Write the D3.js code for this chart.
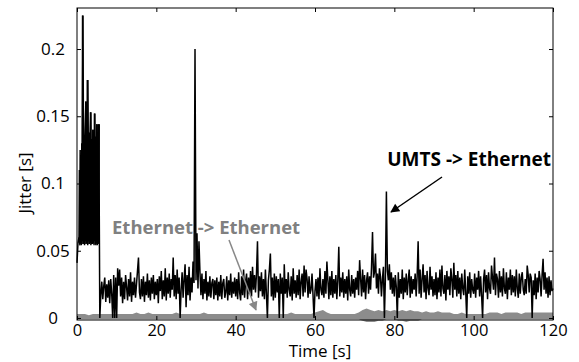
<!DOCTYPE html>
<html>
<head>
<meta charset="utf-8">
<script src="https://cdn.jsdelivr.net/npm/d3@7"></script>
<style>
    html, body { margin: 0; padding: 0; background: #fff; }
    svg { display: block; font-family: "Open Sans", sans-serif; }
</style>
</head>
<body>
<svg id="chart" width="579" height="362"></svg>
<script>
// UMTS -> Ethernet jitter in ms, one sample every 0.25 s (0 .. 120 s)
const UMTS_STEP = 0.25;
const umtsJitterMs = [
    41,56,60,54,120,58,225,55,134,161,56,177,57,130,153,55,140,58,152,54,
    144,56,144,0,17,27,14,24,30,12,25,15,28,11,29,18,0,32,0,30,
    0,37,24,36,16,30,11,27,14,32,23,13,29,16,34,12,27,17,30,15,
    25,35,45,19,14,29,16,31,12,27,17,33,15,28,13,30,18,32,14,27,
    17,29,11,31,20,35,14,28,16,37,13,30,18,33,15,29,21,45,16,32,
    14,36,18,30,0,21,34,15,29,40,8,32,17,38,13,30,19,42,26,200,
    28,63,22,57,34,17,33,14,29,18,35,13,27,16,31,15,26,29,14,28,
    17,30,13,27,16,32,14,26,29,15,19,31,13,28,17,33,15,27,18,30,
    16,29,14,34,19,13,31,17,36,15,27,33,14,30,18,35,16,38,21,32,
    19,33,57,15,31,20,34,16,29,14,36,18,0,28,36,48,16,30,13,33,
    15,31,19,29,0,33,18,30,0,40,18,29,15,34,21,16,31,13,37,18,
    28,15,32,17,36,14,27,33,16,39,19,36,29,15,31,18,21,33,17,0,
    20,29,16,30,14,37,21,17,29,15,35,18,42,28,14,31,17,35,15,29,
    18,32,14,28,53,16,30,19,34,15,29,18,31,13,36,21,16,32,18,29,
    15,30,21,35,17,43,29,16,36,19,32,14,28,34,18,31,21,38,64,30,
    34,48,22,33,18,37,31,16,29,38,0,30,94,35,28,40,21,34,18,30,
    16,32,23,0,34,15,29,18,36,14,30,19,33,17,28,36,15,31,18,29,
    21,33,16,31,57,18,36,15,29,40,19,32,14,35,22,17,38,21,31,16,
    29,17,34,14,30,19,36,16,39,22,18,32,13,35,21,31,17,37,29,15,
    41,21,32,16,35,18,30,14,33,22,17,36,19,0,31,18,34,15,29,21,
    18,33,15,30,21,35,16,31,17,0,29,36,19,32,14,34,22,18,39,30,
    21,45,17,33,29,15,35,19,31,16,37,22,18,34,14,30,21,36,17,32,
    19,31,16,36,22,15,33,18,30,34,21,17,29,18,39,32,19,33,30,0,
    28,17,33,14,30,19,35,29,16,32,44,21,34,18,30,15,31,17,28,20,
    22
];

// start-up burst of the UMTS link, ms, one sample every 0.1 s from 0.5 s
const BURST_START = 0.5;
const BURST_STEP = 0.1;
const burstJitterMs = [
    57,110,55,125,56,120,54,130,57,225,
    55,128,56,132,54,134,57,161,55,140,
    56,177,54,135,57,131,55,138,56,153,
    54,133,57,130,55,140,56,132,54,152,
    57,135,55,130,56,144,54,138,57,144,
    55,144
];

// Ethernet -> Ethernet jitter band in ms, one value per second (0 .. 120 s)
const ethUpperMs = [
    3,3,3,2,3,3,3,3,3,3,
    3,3,3,3,3,4,3,3,4,3,
    3,3,3,3,3,4,3,3,3,3,
    3,3,4,3,3,3,3,3,3,3,
    3,3,3,3,3,3,3,3,3,3,
    3,3,3,3,4,3,3,3,3,3,
    4,5,6,4,3,3,3,3,3,3,
    3,4,6,7,6,5,6,5,6,5,
    6,5,6,5,6,5,5,4,5,4,
    4,5,4,4,4,3,3,4,3,3,
    3,3,3,3,4,4,4,3,4,4,
    4,4,3,4,4,4,4,4,4,4,
    4
];
const ethLowerMs = [
    -1,-1,-1,-1,-1,-1,-1,-1,-1,-1,
    -1,-1,-1,-1,-1,-1,-1,-1,-1,-1,
    -1,-1,-1,-1,-1,-1,-1,-1,-1,-1,
    -1,-1,-1,-1,-1,-1,-1,-1,-1,-1,
    -1,-1,-1,-1,-1,-1,-1,-1,-1,-1,
    -1,-1,-1,-1,-1,-1,-1,-1,-1,-1,
    -1,-1,-1,-1,-1,-1,-1,-1,-1,-1,
    -1,-1,-2,-3,-3,-3,-2,-2,-1,-1,
    -1,-2,-2,-3,-2,-2,-2,-1,-1,-1,
    -1,-1,-1,-1,-1,-1,-1,-1,-1,-1,
    -1,-1,-1,-1,-1,-1,-1,-1,-1,-1,
    -1,-1,-1,-1,-1,-1,-1,-1,-1,-1,
    -1
];

const xTicks = [0, 20, 40, 60, 80, 100, 120];
const yTicks = [0, 0.05, 0.1, 0.15, 0.2];
const yTickLabels = ["0", "0.05", "0.1", "0.15", "0.2"];

// Layout
const W = 579, H = 362;
const margin = { top: 8, right: 26, bottom: 42, left: 77 };
const innerW = W - margin.left - margin.right;
const innerH = H - margin.top - margin.bottom;

const svg = d3.select("#chart");

const defs = svg.append("defs");
function addArrowHead(id, color) {
    defs.append("marker")
        .attr("id", id)
        .attr("viewBox", "0 0 10 10")
        .attr("refX", 9).attr("refY", 5)
        .attr("markerWidth", 10).attr("markerHeight", 9)
        .attr("markerUnits", "userSpaceOnUse")
        .attr("orient", "auto")
        .append("path")
        .attr("d", "M0,0 L10,5 L0,10 Z")
        .attr("fill", color);
}
addArrowHead("headBlack", "#000");
addArrowHead("headGray", "#888");

const g = svg.append("g").attr("transform", `translate(${margin.left},${margin.top})`);

const x = d3.scaleLinear().domain([0, 120]).range([0, innerW]);
const y = d3.scaleLinear().domain([-0.0015, 0.2305]).range([innerH, 0]);

// Ethernet -> Ethernet band
const ethData = ethUpperMs.map((u, i) => ({ t: i, hi: u / 1000, lo: ethLowerMs[i] / 1000 }));
g.append("path")
    .datum(ethData)
    .attr("d", d3.area().x(d => x(d.t)).y0(d => y(d.lo)).y1(d => y(d.hi)))
    .attr("fill", "#8c8c8c");

// UMTS -> Ethernet line
const line = d3.line().x(d => x(d.t)).y(d => y(d.v));
const umtsData = umtsJitterMs.map((v, i) => ({ t: i * UMTS_STEP, v: v / 1000 }));
const burstData = burstJitterMs.map((v, i) => ({ t: BURST_START + i * BURST_STEP, v: v / 1000 }));

[umtsData, burstData].forEach(data => {
    g.append("path")
        .datum(data)
        .attr("d", line)
        .attr("fill", "none")
        .attr("stroke", "#000")
        .attr("stroke-width", 1.5);
});

// Axes (ticks point inward, mirrored on top/right)
const axisFont = (sel, size) => sel.selectAll("text")
    .attr("font-size", size).attr("fill", "#000")
    .attr("font-family", "'Open Sans', sans-serif");

g.append("g")
    .attr("transform", `translate(0,${innerH})`)
    .call(d3.axisBottom(x).tickValues(xTicks).tickSize(-4).tickPadding(4))
    .call(axisFont, 16.5)
    .call(a => a.select(".domain").remove());

g.append("g")
    .call(d3.axisTop(x).tickValues(xTicks).tickSize(-4).tickFormat(""))
    .call(a => a.select(".domain").remove());

// y labels sit centred in a column left of the axis
g.append("g")
    .call(d3.axisLeft(y).tickValues(yTicks).tickSize(-4).tickPadding(24)
        .tickFormat((d, i) => yTickLabels[i]))
    .call(axisFont, 17)
    .call(a => a.selectAll("text").attr("text-anchor", "middle"))
    .call(a => a.select(".domain").remove());

g.append("g")
    .attr("transform", `translate(${innerW},0)`)
    .call(d3.axisRight(y).tickValues(yTicks).tickSize(-4).tickFormat(""))
    .call(a => a.select(".domain").remove());

g.append("rect")
    .attr("width", innerW).attr("height", innerH)
    .attr("fill", "none").attr("stroke", "#000").attr("stroke-width", 1);

// Axis titles
svg.append("text")
    .attr("x", 320).attr("y", 356.5)
    .attr("text-anchor", "middle").attr("font-size", 17)
    .text("Time [s]");

svg.append("text")
    .attr("transform", "translate(31,183) rotate(-90)")
    .attr("text-anchor", "middle").attr("font-size", 17)
    .text("Jitter [s]");

// Annotations
svg.append("line")
    .attr("x1", 442).attr("y1", 177).attr("x2", 391).attr("y2", 212)
    .attr("stroke", "#000").attr("stroke-width", 1.5)
    .attr("marker-end", "url(#headBlack)");

svg.append("text")
    .attr("x", 551).attr("y", 166).attr("text-anchor", "end")
    .attr("font-size", 19).attr("font-weight", "bold")
    .text("UMTS -> Ethernet");

svg.append("line")
    .attr("x1", 229).attr("y1", 240).attr("x2", 256).attr("y2", 310)
    .attr("stroke", "#888").attr("stroke-width", 1.5)
    .attr("marker-end", "url(#headGray)");

svg.append("text")
    .attr("x", 112).attr("y", 234)
    .attr("font-size", 18.5).attr("font-weight", "bold").attr("fill", "#808080")
    .text("Ethernet -> Ethernet");
</script>
</body>
</html>
